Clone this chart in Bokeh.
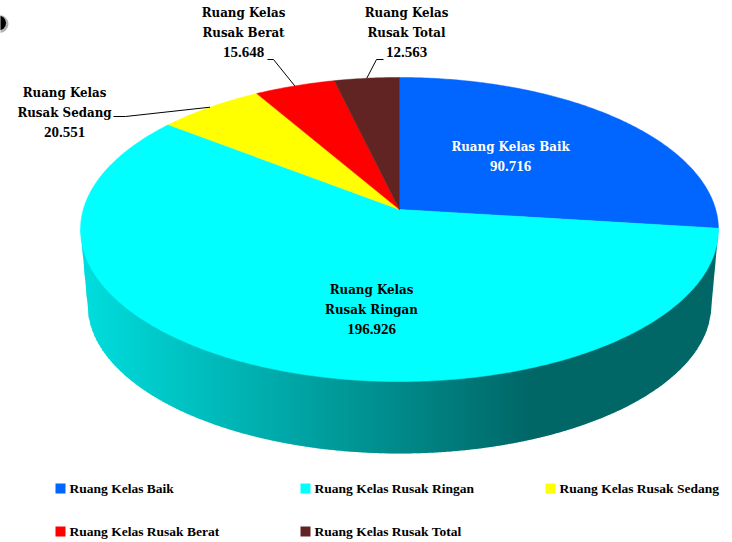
import numpy as np
from bokeh.plotting import figure
from bokeh.models import Range1d
from bokeh.core.properties import value
from bokeh.embed import file_html
from bokeh.resources import INLINE

categories = ["Ruang Kelas Baik", "Ruang Kelas Rusak Ringan", "Ruang Kelas Rusak Sedang", "Ruang Kelas Rusak Berat", "Ruang Kelas Rusak Total"]
values = [90716, 196926, 20551, 15648, 12563]
value_labels = ["90.716", "196.926", "20.551", "15.648", "12.563"]
colors = ["#0066ff", "#00ffff", "#ffff00", "#ff0000", "#622423"]

W, H = 732, 542
CX, CY, A, B, K = 399.0, 209.0, 316.2, 149.4, 0.1316
LABEL_FONT = "DejaVu Serif Condensed"
NUMBER_FONT = "Liberation Serif"
LEGEND_FONT = "Liberation Serif"

p = figure(width=W, height=H, output_backend="svg", toolbar_location=None,
           x_range=Range1d(0, W), y_range=Range1d(H, 0), min_border=0,
           margin=(0, 0, 0, 0), outline_line_color=None)
p.axis.visible = False
p.grid.visible = False
p.background_fill_color = "white"
p.border_fill_color = "white"

def rim(theta):
    u, v = np.sin(theta), np.cos(theta)
    d = 1 + K * v
    return CX + A * u / d, CY - B * v / d

TOP_A, TOP_MID = 319.0, 229.0
BOT_A, BOT_B, BOT_MID = 312.0, 149.0, 304.0
xs = np.arange(80, 719, 2.0)
def low(q):
    dx = (q - CX) / BOT_A
    if abs(dx) >= 1:
        t = (TOP_A - abs(q - CX)) / (TOP_A - BOT_A)
        return TOP_MID + (BOT_MID - TOP_MID) * max(min(t, 1), 0)
    return BOT_MID + BOT_B * np.sqrt(1 - dx * dx)
for x in xs:
    x1 = min(x + 2.6, CX + TOP_A)
    t = min((x - 80) / (534 - 80), 1)
    g = int(222 + (102 - 222) * t)
    col = "#%02x%02x%02x" % (0, g, g)
    p.patch([x, x1, x1, x], [TOP_MID, TOP_MID, low(x1), low(x)], fill_color=col, line_color=None)

start = 0.0
total = sum(values)
mids = []
for val, col in zip(values, colors):
    sweep = 2 * np.pi * val / total
    th = np.linspace(start, start + sweep, max(int(sweep * 90), 8))
    rx, ry = rim(th)
    p.patch([CX] + list(rx), [CY] + list(ry), fill_color=col, line_color=col, line_width=0.5)
    mids.append(start + sweep / 2)
    start += sweep

elbows = {2: [(113, 116), (125, 116)], 3: [(267, 59), (273, 59)], 4: [(383, 59), (376, 59)]}
for i, pts in elbows.items():
    ex, ey = rim(mids[i])
    p.line([q[0] for q in pts] + [float(ex)], [q[1] for q in pts] + [float(ey)], line_color="black", line_width=1)

lines = [["Ruang Kelas Baik", value_labels[0]],
         ["Ruang Kelas", "Rusak Ringan", value_labels[1]],
         ["Ruang Kelas", "Rusak Sedang", value_labels[2]],
         ["Ruang Kelas", "Rusak Berat", value_labels[3]],
         ["Ruang Kelas", "Rusak Total", value_labels[4]]]
label_pos = [(510, 146), (371, 289), (64, 92), (243, 12), (406, 12)]
for i, (ls, (lx, ly)) in enumerate(zip(lines, label_pos)):
    for j, s in enumerate(ls):
        is_num = j == len(ls) - 1
        p.text([lx], [ly + j * 19.7], text=[s], text_align="center", text_baseline="middle",
               text_font=value(NUMBER_FONT if is_num else LABEL_FONT), text_font_style="bold",
               text_font_size="15px" if is_num else "13.2px",
               text_color="white" if i == 0 else "black")

leg_pos = [(55, 488), (300, 488), (545, 488), (55, 531), (300, 531)]
for cat, col, (lx, ly) in zip(categories, colors, leg_pos):
    p.rect([lx + 5], [ly], width=10, height=10, fill_color=col, line_color=None)
    p.text([lx + 14], [ly], text=[cat], text_align="left", text_baseline="middle",
           text_font=value(LEGEND_FONT), text_font_style="bold", text_font_size="13.5px", text_color="black")

p.scatter([-1], [23.5], size=18, fill_color="#000000", fill_alpha=0.3, line_color=None)
p.scatter([-2], [22.5], size=15, fill_color="black", line_color=None)

open("out.html", "w").write(file_html(p, INLINE))
